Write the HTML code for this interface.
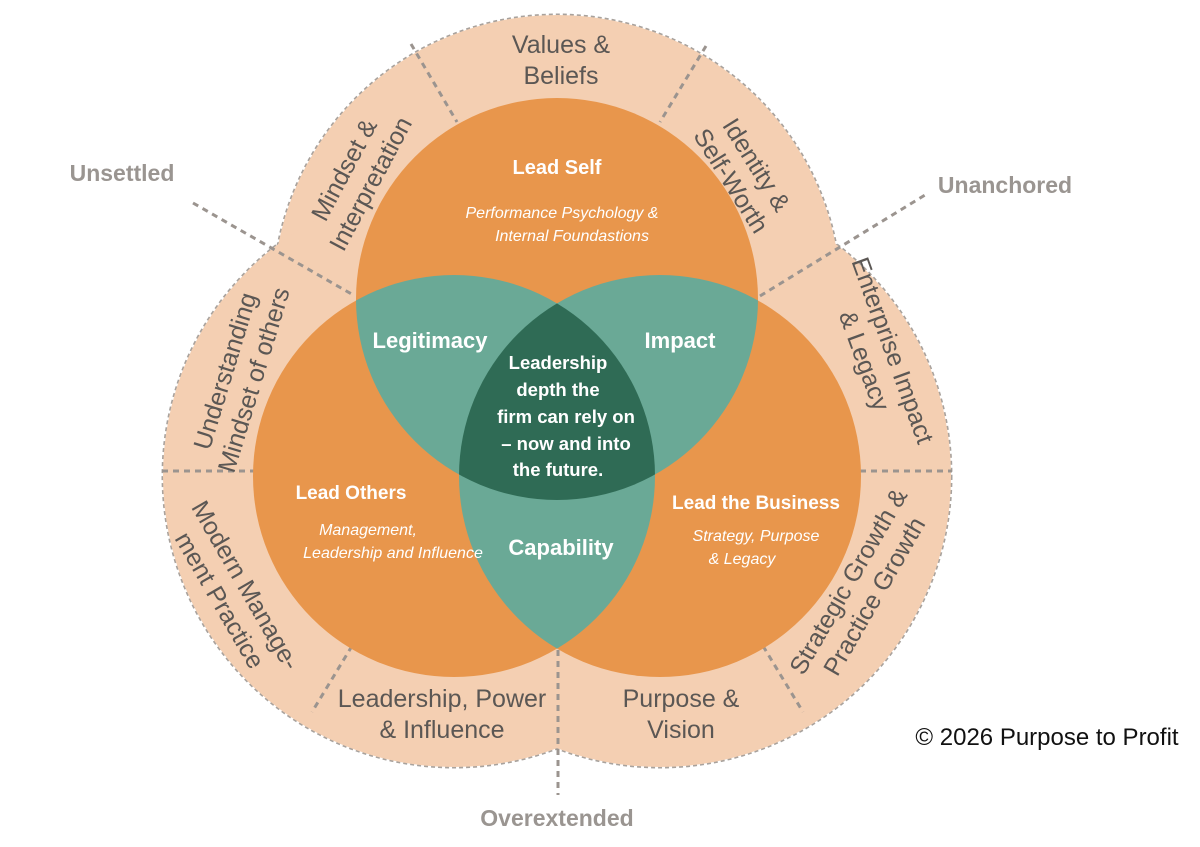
<!DOCTYPE html>
<html><head><meta charset="utf-8"><style>
html,body{margin:0;padding:0;background:#fff;width:1200px;height:847px;overflow:hidden}
svg text{font-family:"Liberation Sans",sans-serif}
</style></head><body>
<svg width="1200" height="847" viewBox="0 0 1200 847" xmlns="http://www.w3.org/2000/svg">
<defs>
<clipPath id="cT"><circle cx="557" cy="299" r="201"/></clipPath>
<clipPath id="cL"><circle cx="454" cy="476" r="201"/></clipPath>
<clipPath id="cR"><circle cx="660" cy="476" r="201"/></clipPath>
</defs>
<g fill="none" stroke="#a8a29d" stroke-width="3" stroke-dasharray="4 3">
<circle cx="557" cy="299" r="284"/>
<circle cx="454" cy="476" r="291"/>
<circle cx="660" cy="476" r="291"/>
</g>
<g fill="#f4cfb2">
<circle cx="557" cy="299" r="284"/>
<circle cx="454" cy="476" r="291"/>
<circle cx="660" cy="476" r="291"/>
</g>
<g stroke="#9b948f" stroke-width="3" stroke-dasharray="6 5" fill="none">
<line x1="411" y1="44" x2="457" y2="122"/>
<line x1="706" y1="46" x2="660" y2="122"/>
<line x1="193" y1="203" x2="355" y2="296"/>
<line x1="162" y1="471" x2="255" y2="471"/>
<line x1="352" y1="646" x2="312" y2="712"/>
<line x1="558" y1="650" x2="558" y2="795"/>
<line x1="763" y1="646" x2="803" y2="712"/>
<line x1="860" y1="471" x2="952" y2="471"/>
<line x1="760" y1="296" x2="925" y2="195"/>
</g>
<g fill="#e8964c">
<circle cx="557" cy="299" r="201"/>
<circle cx="454" cy="476" r="201"/>
<circle cx="660" cy="476" r="201"/>
</g>
<g fill="#6aa996">
<circle cx="454" cy="476" r="201" clip-path="url(#cT)"/>
<circle cx="660" cy="476" r="201" clip-path="url(#cT)"/>
<circle cx="660" cy="476" r="201" clip-path="url(#cL)"/>
</g>
<g clip-path="url(#cT)"><circle cx="660" cy="476" r="201" fill="#2f6b55" clip-path="url(#cL)"/></g>
<g fill="#fff" text-anchor="middle" font-weight="bold">
<text x="557" y="174" font-size="20">Lead Self</text>
<text x="430" y="348" font-size="22">Legitimacy</text>
<text x="680" y="348" font-size="22">Impact</text>
<text x="561" y="555" font-size="22">Capability</text>
<text x="351" y="499" font-size="19">Lead Others</text>
<text x="756" y="509" font-size="19">Lead the Business</text>
<g font-size="18.5">
<text x="558" y="369">Leadership</text>
<text x="558" y="396">depth the</text>
<text x="566" y="423">firm can rely on</text>
<text x="566" y="450">– now and into</text>
<text x="558" y="476">the future.</text>
</g>
</g>
<g fill="#fff" text-anchor="middle" font-style="italic" font-size="16">
<text x="562" y="218">Performance Psychology &amp;</text>
<text x="572" y="241">Internal Foundastions</text>
<text x="368" y="535">Management,</text>
<text x="393" y="558">Leadership and Influence</text>
<text x="756" y="541">Strategy, Purpose</text>
<text x="742" y="564">&amp; Legacy</text>
</g>
<g fill="#5b5754" text-anchor="middle" font-size="25">
<text x="561" y="53">Values &amp;</text>
<text x="561" y="84">Beliefs</text>
<text x="442" y="707">Leadership, Power</text>
<text x="442" y="738">&amp; Influence</text>
<text x="681" y="707">Purpose &amp;</text>
<text x="681" y="738">Vision</text>
<g transform="translate(356,176) rotate(-62)"><text y="-5">Mindset &amp;</text><text y="25">Interpretation</text></g>
<g transform="translate(745,172) rotate(58)"><text y="-5">Identity &amp;</text><text y="25">Self-Worth</text></g>
<g transform="translate(238,375) rotate(-73)"><text y="-5">Understanding</text><text y="25">Mindset of others</text></g>
<g transform="translate(234,592) rotate(60)"><text y="-5">Modern Manage-</text><text y="25">ment Practice</text></g>
<g transform="translate(880,355) rotate(70)"><text y="-5">Enterprise Impact</text><text y="25">&amp; Legacy</text></g>
<g transform="translate(860,588) rotate(-60)"><text y="-5">Strategic Growth &amp;</text><text y="25">Practice Growth</text></g>
</g>
<g fill="#9a9591" font-weight="bold" font-size="23" text-anchor="middle">
<text x="122" y="181">Unsettled</text>
<text x="1005" y="193">Unanchored</text>
<text x="557" y="826">Overextended</text>
</g>
<text x="1047" y="745" text-anchor="middle" font-size="24" fill="#111">© 2026 Purpose to Profit</text>
</svg>
</body></html>
